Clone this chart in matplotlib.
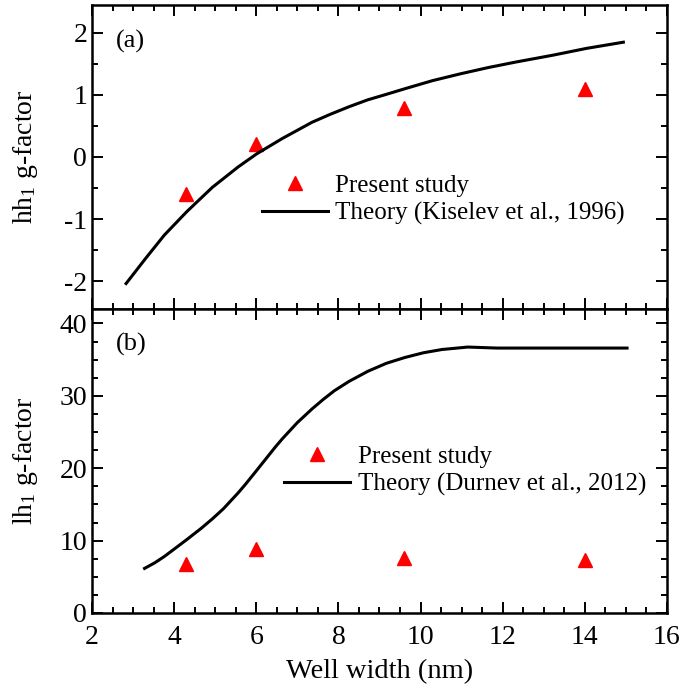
import matplotlib
matplotlib.use("Agg")
import matplotlib.pyplot as plt
from matplotlib.ticker import MultipleLocator

plt.rcParams['font.family'] = ['Liberation Serif', 'DejaVu Serif']
plt.rcParams['mathtext.fontset'] = 'custom'
plt.rcParams['mathtext.rm'] = 'Liberation Serif'
plt.rcParams['mathtext.it'] = 'Liberation Serif:italic'
plt.rcParams['axes.unicode_minus'] = False

# measured g-factors
width_exp = [4.3, 6.0, 9.6, 14.0]
hh_exp = [-0.59, 0.21, 0.79, 1.10]
lh_exp = [6.71, 8.83, 7.63, 7.31]

# theory curves
width_hh = [2.83, 3.30, 3.76, 4.31, 4.93, 5.56, 6.01, 6.64, 7.00, 7.36, 7.81,
            8.26, 8.71, 9.17, 9.62, 10.29, 10.97, 11.64, 12.32, 13.22, 14.04, 14.94]
hh_theory = [-2.04, -1.64, -1.26, -0.88, -0.49, -0.16, 0.05, 0.30, 0.43, 0.56,
             0.69, 0.81, 0.92, 1.01, 1.10, 1.23, 1.34, 1.44, 1.53, 1.64, 1.75, 1.85]
width_lh = [3.28, 3.53, 3.76, 4.03, 4.31, 4.66, 4.93, 5.20, 5.56, 5.74, 6.01,
            6.46, 6.64, 7.00, 7.36, 7.63, 7.90, 8.26, 8.72, 9.17, 9.62, 10.07,
            10.52, 11.15, 11.87, 15.03]
lh_theory = [6.16, 6.94, 7.8, 8.95, 10.15, 11.7, 13.0, 14.4, 16.6, 17.8,
             19.7, 22.9, 24.1, 26.3, 28.2, 29.5, 30.7, 32.0, 33.4, 34.5,
             35.3, 35.95, 36.4, 36.74, 36.6, 36.6]

fig, (ax1, ax2) = plt.subplots(2, 1, sharex=True, figsize=(6.84, 6.90), dpi=100)
fig.subplots_adjust(left=0.1345, right=0.975, top=0.9928, bottom=0.1116, hspace=0)


def style_axis(ax):
    for s in ax.spines.values():
        s.set_linewidth(1.8)
    ax.tick_params(which='both', direction='in', top=True, right=True,
                   labelsize=20, width=1.4)
    ax.tick_params(which='major', length=8)
    ax.tick_params(which='minor', length=4)
    ax.tick_params(axis='x', pad=9)
    ax.xaxis.set_major_locator(MultipleLocator(2))
    ax.xaxis.set_minor_locator(MultipleLocator(0.5))


# (a) heavy hole
ax1.plot(width_exp, hh_exp, '^', color='red', markersize=10, linestyle='none',
         label='Present study')
ax1.plot(width_hh, hh_theory, '-', color='black', linewidth=2.2,
         label='Theory (Kiselev et al., 1996)')
ax1.set_ylim(-2.45, 2.45)
ax1.yaxis.set_major_locator(MultipleLocator(1))
ax1.yaxis.set_minor_locator(MultipleLocator(0.5))
ax1.set_ylabel('hh$_1$ g-factor', fontsize=20, labelpad=14)
ax1.text(0.041, 0.88, '(a)', transform=ax1.transAxes, fontsize=19, va='center')
style_axis(ax1)
ax1.legend(loc='center left', bbox_to_anchor=(0.295, 0.359), frameon=False,
           fontsize=18, borderpad=0, borderaxespad=0, handlelength=2.64,
           handletextpad=0.3, labelspacing=0.2)

# (b) light hole
ax2.plot(width_exp, lh_exp, '^', color='red', markersize=10, linestyle='none',
         label='Present study')
ax2.plot(width_lh, lh_theory, '-', color='black', linewidth=2.2,
         label='Theory (Durnev et al., 2012)')
ax2.set_ylim(0, 42)
ax2.yaxis.set_major_locator(MultipleLocator(10))
ax2.yaxis.set_minor_locator(MultipleLocator(2.5))
ax2.set_ylabel('lh$_1$ g-factor', fontsize=20, labelpad=14)
ax2.text(0.041, 0.883, '(b)', transform=ax2.transAxes, fontsize=19, va='center')
style_axis(ax2)
ax2.legend(loc='center left', bbox_to_anchor=(0.334, 0.469), frameon=False,
           fontsize=18, borderpad=0, borderaxespad=0, handlelength=2.64,
           handletextpad=0.3, labelspacing=0.2)

ax2.set_xlim(2, 16)
ax2.set_xlabel('Well width (nm)', fontsize=20.5, labelpad=6)

fig.align_ylabels([ax1, ax2])
fig.savefig('out.png', dpi=100)
